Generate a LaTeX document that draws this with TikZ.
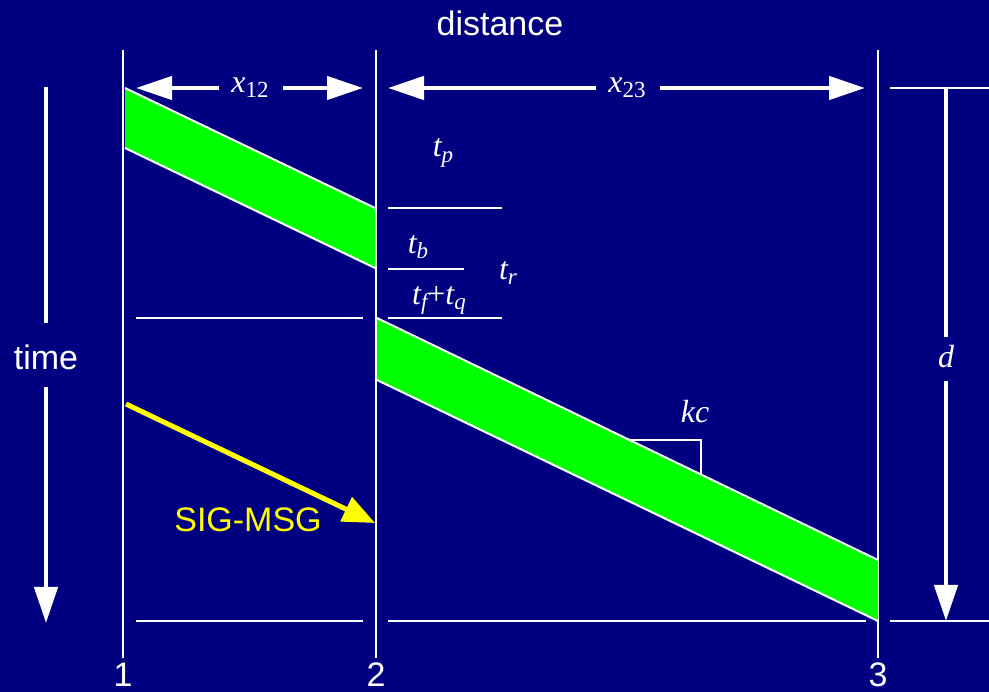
\documentclass[tikz,border=0pt]{standalone}
\usepackage{fontspec}
\setmainfont{Liberation Sans}
\newfontfamily\tms{Liberation Serif}
\usetikzlibrary{arrows.meta,calc}
\definecolor{navy}{RGB}{0,0,128}
\definecolor{bandgreen}{RGB}{0,255,0}
\definecolor{sigyellow}{RGB}{255,255,0}
\newcommand{\sub}[1]{\raisebox{-0.35ex}{\fontsize{23}{25}\selectfont #1}}

\begin{document}
\begin{tikzpicture}[x=1pt,y=-1pt,
    wire/.style={white,line width=2.5pt},
    guide/.style={white,line width=2pt},
    shaft/.style={white,line width=4.5pt},
    span/.style={shaft,-{Triangle[length=36pt,width=23pt]}},
    sans/.style={white,inner sep=0pt,font=\fontsize{34}{40}\selectfont},
    sym/.style={white,inner sep=0pt,font=\tms\fontsize{32}{38}\selectfont\itshape}]
    \fill[navy] (0,0) rectangle (989,692);
    \useasboundingbox (0,0) rectangle (989,692);
    % stations
    \foreach \n/\x in {1/123,2/376,3/878}{
        \coordinate (top\n) at (\x,50);
        \coordinate (bot\n) at (\x,658);
        \draw[wire] (top\n) -- (bot\n);
        \node[sans,anchor=base] (lab\n) at (\x,686) {\n};
    }
    % reference lines
    \draw[guide] (136,621) -- (363,621);
    \draw[guide] (388,621) -- (866,621);
    \draw[guide] (890,621) -- (989,621);
    \draw[guide] (890,88) -- (989,88);
    \draw[guide] (136,318) -- (363,318);
    \draw[guide] (388,318) -- (502,318);
    \draw[guide] (388,208) -- (502,208);
    \draw[guide] (388,269) -- (464,269);
    % packet bands
    \fill[bandgreen] (125,88) -- (375,208) -- (375,268) -- (125,148) -- cycle;
    \draw[guide] (125,88) -- (375,208);
    \draw[guide] (125,148) -- (375,268);
    \fill[bandgreen] (377,318) -- (878,560) -- (878,621) -- (377,380) -- cycle;
    \draw[guide] (377,318) -- (878,560);
    \draw[guide] (377,380) -- (878,621);
    \draw[guide] (628,440) -- (701,440) -- (701,475);
    % signalling message
    \draw[sigyellow,line width=5pt,-{Triangle[length=32pt,width=26pt]}] (126,404) -- (375,523);
    \node[sans,text=sigyellow] (sig) at (248,520) {SIG-MSG};
    % labels
    \node[sans] (dist) at (500,23) {distance};
    \node[sym] (x12) at (250,88) {x\sub{\upshape 12}};
    \node[sym] (x23) at (627,88) {x\sub{\upshape 23}};
    \node[sym] (tp) at (443,153) {t\sub{p}};
    \node[sym] (tb) at (418,247) {t\sub{b}};
    \node[sym] (tfq) at (439,300) {t\sub{f}{\upshape +}t\sub{q}};
    \node[sym] (tr) at (508,273) {t\sub{r}};
    \node[sym] (kc) at (695,412) {kc};
    \node[sym] (d) at (946,357) {d};
    \node[sans] (time) at (46,357) {time};
    % dimension arrows
    \draw[span] ([xshift=-12pt]x12.west) -- (136,88);
    \draw[span] ([xshift=14pt]x12.east) -- (363,88);
    \draw[span] ([xshift=-12pt]x23.west) -- (388,88);
    \draw[span] ([xshift=14pt]x23.east) -- (865,88);
    \draw[shaft] (946,88) -- ([yshift=9pt]d.north);
    \draw[span] ([yshift=-13pt]d.south) -- (946,621);
    \draw[shaft] (46,87) -- ([yshift=21pt]time.north);
    \draw[span] ([yshift=-17pt]time.south) -- (46,623);
\end{tikzpicture}
\end{document}
